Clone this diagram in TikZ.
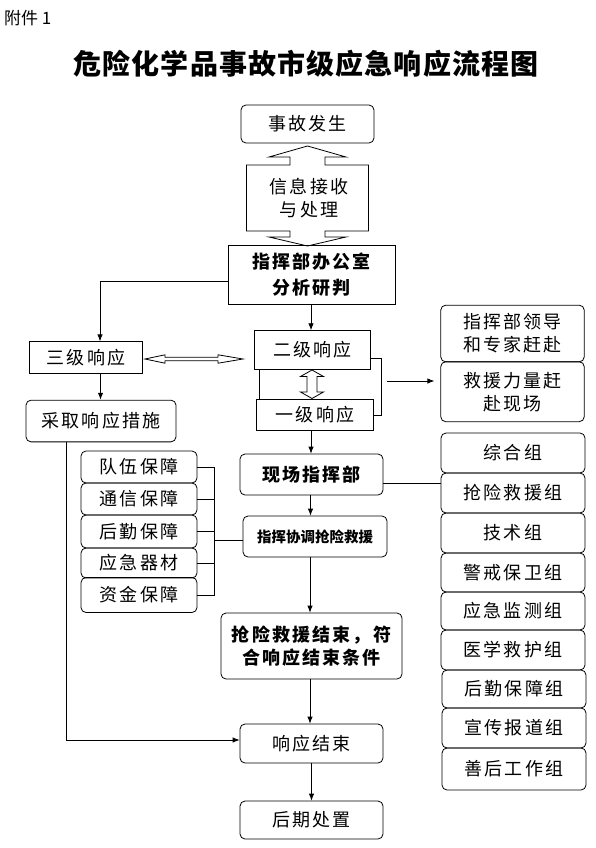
\documentclass[tikz,border=0pt]{standalone}
\usepackage{fontspec}
\newfontfamily\cjk[LetterSpace=12]{Noto Sans CJK SC}
\newfontfamily\cjkt[LetterSpace=4]{Noto Sans CJK SC}
\newfontfamily\cjkn{Noto Sans CJK SC}
\usetikzlibrary{arrows.meta,calc}
\begin{document}
\begin{tikzpicture}[x=1pt,y=-1pt,
  every node/.style={inner sep=0pt, align=center, text=black},
  bx/.style={draw, line width=0.8pt, font=\cjk\fontsize{18}{23}\selectfont},
  rbx/.style={bx, rounded corners=5pt},
  bbx/.style={rbx, font=\cjk\bfseries\fontsize{18}{23}\selectfont},
  conn/.style={line width=0.8pt},
  arr/.style={conn, -{Latex[length=7pt,width=5.5pt]}},
  hollow/.style={draw, line width=0.8pt, line join=miter}]
\useasboundingbox (0,0) rectangle (595,848);

% header
\node[anchor=west, font=\cjkn\fontsize{17}{20}\selectfont] (att) at (4,18) {附件 1};
\node[font=\cjkt\bfseries\fontsize{28}{32}\selectfont] (title) at (306,64) {危险化学品事故市级应急响应流程图};

% top flow
\node[rbx, minimum width=133pt, minimum height=38pt] (ev) at (307.5,124) {事故发生};
\draw[hollow] (307.5,146) -- (269,157) -- (290,157) -- (290,165) -- (246.5,165) -- (246.5,231)
  -- (290,231) -- (290,237) -- (269,237) -- (307.5,246) -- (346,237) -- (325,237) -- (325,231)
  -- (368.5,231) -- (368.5,165) -- (325,165) -- (325,157) -- (346,157) -- cycle;
\node[font=\cjk\fontsize{18}{23}\selectfont] (info) at (309,198) {信息接收\\与处理};
\node[bx, minimum width=167pt, minimum height=59pt, font=\cjk\bfseries\fontsize{18}{26}\selectfont] (off) at (311.5,275) {指挥部办公室\\分析研判};

% levels
\node[bx, minimum width=113pt, minimum height=31.5pt] (l3) at (86,357.5) {三级响应};
\node[bx, minimum width=116pt, minimum height=38.6pt] (l2) at (312.5,350) {二级响应};
\node[bx, minimum width=116.6pt, minimum height=31.4pt] (l1) at (315,415) {一级响应};
\node[rbx, minimum width=150pt, minimum height=41.7pt] (meas) at (101,421) {采取响应措施};

% hollow double arrows
\draw[hollow] (145,359) -- (165,354.8) -- (165,357.3) -- (218,357.3) -- (218,354.8) -- (243,359)
  -- (218,363.2) -- (218,360.7) -- (165,360.7) -- (165,363.2) -- cycle;
\draw[hollow] (312,370) -- (300.5,376.5) -- (307,376.5) -- (307,392) -- (300.5,392) -- (312,398.5)
  -- (323.5,392) -- (317,392) -- (317,376.5) -- (323.5,376.5) -- cycle;

% right pair
\node[rbx, minimum width=143.5pt, minimum height=56.7pt] (r1) at (512.5,333.5) {指挥部领导\\和专家赶赴};
\node[rbx, minimum width=143.5pt, minimum height=60pt] (r2) at (512.5,391.7) {救援力量赶\\赴现场};

% scene
\node[bbx, minimum width=143pt, minimum height=41pt] (scene) at (311.5,474.5) {现场指挥部};
\node[rbx, minimum width=144pt, minimum height=41pt, font=\cjkn\bfseries\fontsize{14.5}{17}\selectfont] (coord) at (315,536.5) {指挥协调抢险救援};

% left list
\node[rbx, minimum width=116pt, minimum height=32pt] (s1) at (139,467) {队伍保障};
\node[rbx, minimum width=116pt, minimum height=32pt] (s2) at (139,499) {通信保障};
\node[rbx, minimum width=116pt, minimum height=33pt] (s3) at (139,531.5) {后勤保障};
\node[rbx, minimum width=116pt, minimum height=30pt] (s4) at (139,563) {应急器材};
\node[rbx, minimum width=116pt, minimum height=35pt] (s5) at (139,595) {资金保障};

% right list
\node[rbx, minimum width=144pt, minimum height=40pt] (g1) at (513,453) {综合组};
\node[rbx, minimum width=144pt, minimum height=40pt] (g2) at (513,493) {抢险救援组};
\node[rbx, minimum width=144pt, minimum height=40pt] (g3) at (513,533) {技术组};
\node[rbx, minimum width=144pt, minimum height=39pt] (g4) at (513,572.5) {警戒保卫组};
\node[rbx, minimum width=144pt, minimum height=38pt] (g5) at (513,611) {应急监测组};
\node[rbx, minimum width=144pt, minimum height=40pt] (g6) at (513,650) {医学救护组};
\node[rbx, minimum width=144pt, minimum height=38pt] (g7) at (514,689) {后勤保障组};
\node[rbx, minimum width=144pt, minimum height=40pt] (g8) at (514,728) {宣传报道组};
\node[rbx, minimum width=144pt, minimum height=42pt] (g9) at (514,769) {善后工作组};

% bottom flow
\node[bbx, minimum width=181pt, minimum height=66pt] (end1) at (311.5,646) {抢险救援结束，符\\合响应结束条件};
\node[rbx, minimum width=143pt, minimum height=39pt] (fin) at (311.5,743.5) {响应结束};
\node[rbx, minimum width=143pt, minimum height=38pt] (post) at (311.5,820) {后期处置};

% connectors
\draw[arr] ([yshift=-6pt]off.west) -| ([xshift=14pt]l3.north);
\draw[arr] ([xshift=14.5pt]l3.south) -- ([xshift=14.5pt]l3.south |- meas.north);
\draw[arr] ([xshift=-0.5pt]off.south) -- ([xshift=-0.5pt]off.south |- l2.north);
\draw[conn] ([xshift=5pt]l2.south west) -- ([xshift=5pt]l2.south west |- l1.north);
\draw[conn] ([yshift=-8pt]l2.east) -| ([xshift=8pt]l1.east) -- (l1.east);
\coordinate (rs) at (387,381);
\draw[arr] (rs) -- ([xshift=-6pt]rs -| r2.west);
\draw[arr] ([xshift=-4pt]l1.south) -- ([xshift=-4pt]l1.south |- scene.north);
\draw[conn] ([yshift=-8.5pt]scene.east) -- ([yshift=-8.5pt]scene.east -| g2.west);
\draw[arr] ([xshift=-1pt]scene.south) -- ([xshift=-1pt]scene.south |- coord.north);
\coordinate (bxj) at (214,540);
\foreach \s in {s1,s2,s3,s4,s5} \draw[conn] (\s.east) -| (bxj);
\draw[conn] (bxj) -- (bxj -| coord.west);
\draw[arr] ([xshift=-5pt]coord.south) -- ([xshift=-5pt]coord.south |- end1.north);
\draw[arr] ([xshift=-1.5pt]end1.south) -- ([xshift=-1.5pt]end1.south |- fin.north);
\draw[arr] ([xshift=-35pt]meas.south) |- ([yshift=3.5pt]fin.west);
\draw[arr] (fin.south) -- (post.north);
\end{tikzpicture}
\end{document}
